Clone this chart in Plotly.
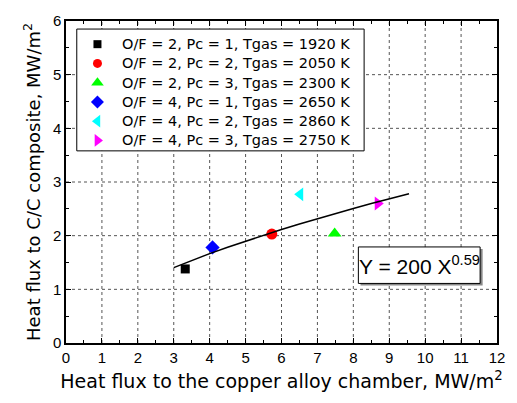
import plotly.graph_objects as go

labels = [
    "O/F = 2, Pc = 1, Tgas = 1920 K",
    "O/F = 2, Pc = 2, Tgas = 2050 K",
    "O/F = 2, Pc = 3, Tgas = 2300 K",
    "O/F = 4, Pc = 1, Tgas = 2650 K",
    "O/F = 4, Pc = 2, Tgas = 2860 K",
    "O/F = 4, Pc = 3, Tgas = 2750 K",
]
x_copper = [3.32, 5.73, 7.48, 4.08, 6.52, 8.68]
y_cc = [1.38, 2.03, 2.04, 1.78, 2.77, 2.60]
symbols = ["square", "circle", "triangle-up", "diamond", "triangle-left", "triangle-right"]
colors = ["#000000", "#ff0000", "#00ff00", "#0000ff", "#00ffff", "#ff00ff"]
sizes = [9, 11, 12, 11, 12, 12]
legend_sizes = [8, 9, 11, 10, 11, 11]

fit_coef = 0.735
fit_exp = 0.59
fit_x = [3.0, 3.5, 4.0, 4.5, 5.0, 5.5, 6.0, 6.5, 7.0, 7.5, 8.0, 8.5, 9.0, 9.55]

x_range = [0, 12]
y_range = [0, 6]
x_grid = list(range(1, 12))
y_grid = list(range(1, 6))

TITLE_FONT = "DejaVu Sans, sans-serif"
TICK_FONT = "Liberation Sans, Arial, sans-serif"

fig = go.Figure()

# dotted grid drawn as shapes so the legend box can cover it
for gx in x_grid:
    fig.add_shape(type="line", xref="x", yref="y", x0=gx, x1=gx, y0=y_range[0], y1=y_range[1],
                  line=dict(color="#555555", width=1, dash="dot"), layer="below")
for gy in y_grid:
    fig.add_shape(type="line", xref="x", yref="y", x0=x_range[0], x1=x_range[1], y0=gy, y1=gy,
                  line=dict(color="#555555", width=1, dash="dot"), layer="below")

# legend box
fig.add_shape(type="rect", xref="x", yref="y", x0=0.30, x1=8.30, y0=3.58, y1=5.85,
              fillcolor="white", line=dict(color="black", width=1), layer="below")

# equation box with shadow
fig.add_shape(type="rect", xref="x", yref="y", x0=8.2, x1=11.6, y0=1.07, y1=1.75,
              fillcolor="#888888", line=dict(width=0), layer="below")
fig.add_shape(type="rect", xref="x", yref="y", x0=8.14, x1=11.53, y0=1.11, y1=1.79,
              fillcolor="white", line=dict(color="black", width=1), layer="below")

for lab, xv, yv, sym, col, sz in zip(labels, x_copper, y_cc, symbols, colors, sizes):
    fig.add_trace(go.Scatter(x=[xv], y=[yv], mode="markers", name=lab, showlegend=False,
                             marker=dict(symbol=sym, color=col, size=sz, line=dict(width=0))))

fit_y = [fit_coef * xv ** fit_exp for xv in fit_x]
fig.add_trace(go.Scatter(x=fit_x, y=fit_y, mode="lines", line=dict(color="black", width=1.5),
                         showlegend=False, hoverinfo="skip"))

# custom legend (paper-like overlay axes 0..1)
leg_x_marker = 0.073
leg_x_text = 0.126
leg_y0 = 0.928
leg_dy = 0.0598
for i, (lab, sym, col, sz) in enumerate(zip(labels, symbols, colors, legend_sizes)):
    yy = leg_y0 - i * leg_dy
    fig.add_trace(go.Scatter(x=[leg_x_marker], y=[yy], xaxis="x2", yaxis="y2", mode="markers",
                             marker=dict(symbol=sym, color=col, size=sz, line=dict(width=0)),
                             showlegend=False, hoverinfo="skip"))
    fig.add_annotation(x=leg_x_text, y=yy, xref="x2", yref="y2", xanchor="left", yanchor="middle",
                       showarrow=False, text=lab,
                       font=dict(size=14.5, family=TITLE_FONT, color="black"))

axis_common = dict(
    showline=True, linecolor="black", linewidth=1.5, mirror="allticks",
    ticks="inside", ticklen=5, tickcolor="black", tickwidth=1,
    showgrid=False, zeroline=False,
    tickfont=dict(size=15, family=TICK_FONT, color="black"),
    minor=dict(ticks="inside", ticklen=3, tickcolor="black", showgrid=False, dtick=0.5),
)

fig.update_layout(
    xaxis=dict(range=x_range, dtick=1, tick0=0,
               title=dict(text="Heat flux to the copper alloy chamber, MW/m<sup>2</sup>",
                          font=dict(size=19, family=TITLE_FONT, color="black"), standoff=10),
               **axis_common),
    yaxis=dict(range=y_range, dtick=1, tick0=0,
               title=dict(text="Heat flux to C/C composite, MW/m<sup>2</sup>",
                          font=dict(size=18, family=TITLE_FONT, color="black"), standoff=8),
               **axis_common),
    xaxis2=dict(range=[0, 1], overlaying="x", visible=False, fixedrange=True),
    yaxis2=dict(range=[0, 1], overlaying="y", visible=False, fixedrange=True),
)

fig.add_annotation(x=9.85, y=1.45, xref="x", yref="y", showarrow=False,
                   text="Y = 200 X<sup>0.59</sup>",
                   font=dict(size=21, family=TICK_FONT, color="black"))

fig.update_layout(
    width=517, height=403,
    margin=dict(l=66, r=13, t=18, b=60),
    paper_bgcolor="white", plot_bgcolor="white",
    font=dict(family=TICK_FONT, color="black"),
    showlegend=False,
)

fig.write_html("out.html")
